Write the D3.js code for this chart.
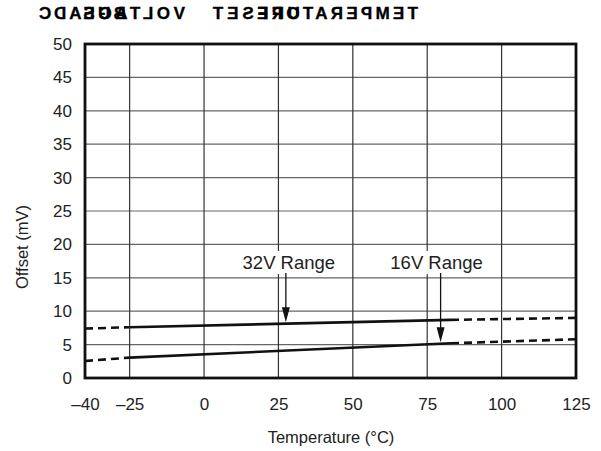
<!DOCTYPE html>
<html>
<head>
<meta charset="utf-8">
<script src="https://cdn.jsdelivr.net/npm/d3@7/dist/d3.min.js"></script>
<style>
  html, body { margin: 0; padding: 0; background: #fff; }
  svg { display: block; font-family: "Liberation Sans", Arial, Helvetica, sans-serif; }
</style>
</head>
<body>
<svg id="chart" width="601" height="451"></svg>
<script>
// Temperature ticks (°C) and offset ticks (mV)
const xTicks = [-40, -25, 0, 25, 50, 75, 100, 125];
const xTickLabels = ["\u201340", "\u201325", "0", "25", "50", "75", "100", "125"];
const yTicks = [0, 5, 10, 15, 20, 25, 30, 35, 40, 45, 50];

// Offset curves: [temperature °C, offset mV]; dashed = extrapolated ends
const range32Left  = [[-40, 7.4], [-25, 7.6]];
const range32Solid = [[-25, 7.6], [83, 8.7]];
const range32Right = [[83, 8.7], [125, 9.0]];
const range16Left  = [[-40, 2.55], [-25, 3.05]];
const range16Solid = [[-25, 3.05], [83, 5.2]];
const range16Right = [[83, 5.2], [125, 5.8]];

// Annotation labels and the temperature each arrow points at
const annotationTexts = ["32V Range", "16V Range"];
const annotationTemps = [27.5, 79.5];
const annotationLines = [range32Solid, range16Solid];

const svg = d3.select("#chart");
const x = d3.scaleLinear().domain([-40, 125]).range([85, 576]);
const y = d3.scaleLinear().domain([0, 50]).range([378, 44]);

// Title rendered mirrored, with its words overlapping
const title = svg.append("g")
  .attr("font-weight", "bold")
  .attr("font-size", 17)
  .attr("fill", "#000")
  .attr("stroke", "#000")
  .attr("stroke-width", 0.35);
const pitch = 14.8;
const titleParts = [
  { text: "VOLTAGE",     right: 185,             chars: 7 },
  { text: "ADC",         right: 185 - 7 * pitch, chars: 3 },
  { text: "BUS",         right: 185 - 4 * pitch, chars: 3 },
  { text: "TEMPERATURE", right: 418,             chars: 11 },
  { text: "OFFSET",      right: 418 - 8 * pitch, chars: 6 }
];
titleParts.forEach(p => {
  title.append("text")
    .attr("transform", `translate(${p.right},18.5) scale(-1,1)`)
    .attr("textLength", p.chars * pitch - 2)
    .attr("lengthAdjust", "spacing")
    .text(p.text);
});

// Grid
const grid = svg.append("g");
grid.selectAll("line.h").data(yTicks.slice(1, -1)).join("line")
  .attr("x1", x(-40)).attr("x2", x(125))
  .attr("y1", d => y(d)).attr("y2", d => y(d))
  .attr("stroke", "#666").attr("stroke-width", 1.2);
grid.selectAll("line.v").data(xTicks.slice(1, -1)).join("line")
  .attr("y1", y(0)).attr("y2", y(50))
  .attr("x1", d => x(d)).attr("x2", d => x(d))
  .attr("stroke", "#333").attr("stroke-width", 1.2);

// Annotation label boxes sit over the grid
const labelShift = [3, -4];
const ann = svg.append("g");
annotationTexts.forEach((txt, i) => {
  const g = ann.append("g");
  const t = g.append("text")
    .attr("x", x(annotationTemps[i]) + labelShift[i])
    .attr("y", 269)
    .attr("text-anchor", "middle")
    .attr("font-size", 18.5)
    .attr("fill", "#222")
    .text(txt);
  const bb = t.node().getBBox();
  g.insert("rect", "text")
    .attr("x", bb.x - 4).attr("y", bb.y - 1)
    .attr("width", bb.width + 8).attr("height", bb.height + 2)
    .attr("fill", "#fff");
});

// Data lines
const line = d3.line().x(d => x(d[0])).y(d => y(d[1]));
const lines = svg.append("g").attr("fill", "none").attr("stroke", "#111").attr("stroke-width", 2.6);
[range32Solid, range16Solid].forEach(s => lines.append("path").attr("d", line(s)));
[range32Left, range32Right, range16Left, range16Right].forEach(s =>
  lines.append("path").attr("d", line(s)).attr("stroke-dasharray", "8,5"));

// Arrows from labels to the curves
const interp = (seg, t) => {
  const [a, b] = seg;
  return a[1] + (b[1] - a[1]) * (t - a[0]) / (b[0] - a[0]);
};
annotationTemps.forEach((tC, i) => {
  const ax = x(tC);
  const tipY = y(interp(annotationLines[i], tC)) - 1.5;
  svg.append("line")
    .attr("x1", ax).attr("x2", ax)
    .attr("y1", 273).attr("y2", tipY - 10)
    .attr("stroke", "#111").attr("stroke-width", 1.3);
  svg.append("path")
    .attr("d", `M${ax - 4},${tipY - 15}L${ax + 4},${tipY - 15}L${ax},${tipY}Z`)
    .attr("fill", "#111");
});

// Frame
svg.append("rect")
  .attr("x", x(-40)).attr("y", y(50))
  .attr("width", x(125) - x(-40)).attr("height", y(0) - y(50))
  .attr("fill", "none").attr("stroke", "#111").attr("stroke-width", 2.8);

// Axes (labels only)
const xAxis = svg.append("g")
  .attr("transform", `translate(0,${y(0)})`)
  .call(d3.axisBottom(x).tickValues(xTicks).tickSize(0).tickPadding(20)
    .tickFormat((d, i) => xTickLabels[i]));
const yAxis = svg.append("g")
  .attr("transform", `translate(${x(-40)},0)`)
  .call(d3.axisLeft(y).tickValues(yTicks).tickSize(0).tickPadding(13));
[xAxis, yAxis].forEach(g => {
  g.select(".domain").remove();
  g.selectAll("text").attr("font-size", 17).attr("fill", "#222")
    .attr("font-family", "Liberation Sans, Arial, sans-serif");
});

// Axis titles
svg.append("text")
  .attr("x", 331).attr("y", 443)
  .attr("text-anchor", "middle")
  .attr("font-size", 16.5).attr("fill", "#222")
  .text("Temperature (\u00B0C)");
svg.append("text")
  .attr("transform", "translate(28,247) rotate(-90)")
  .attr("text-anchor", "middle")
  .attr("font-size", 16.5).attr("fill", "#222")
  .text("Offset (mV)");
</script>
</body>
</html>
